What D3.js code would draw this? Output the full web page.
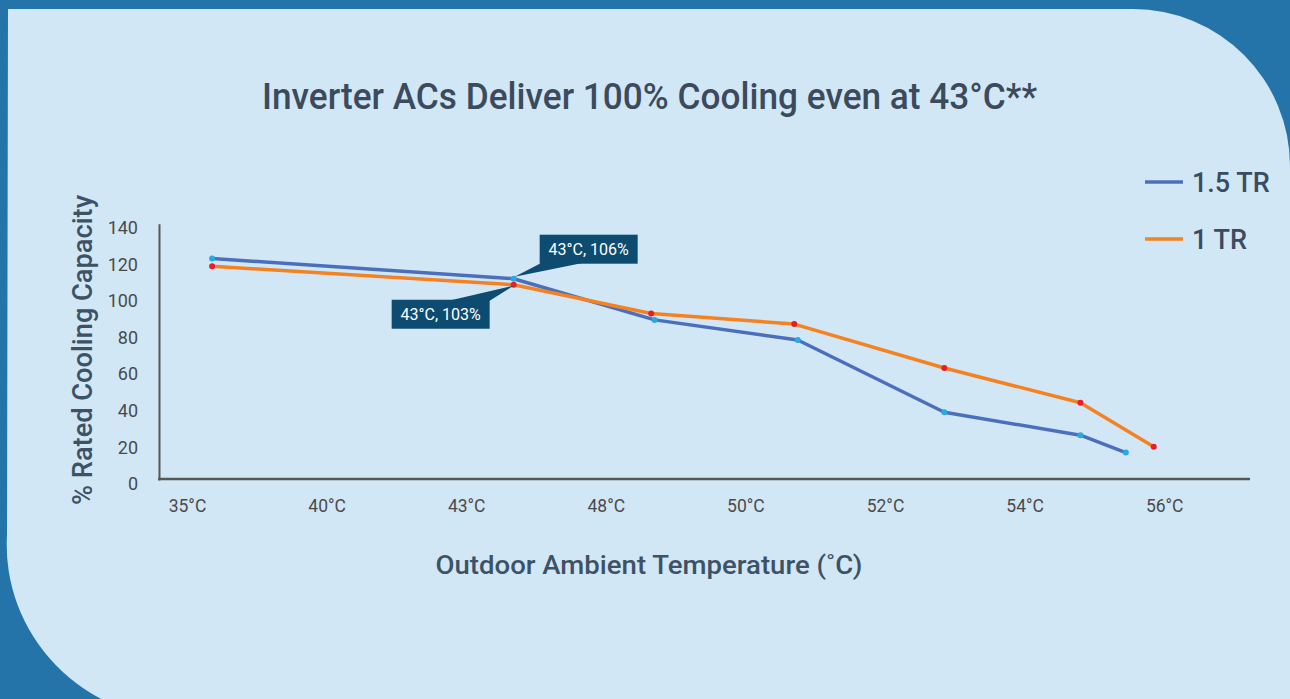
<!DOCTYPE html>
<html>
<head>
<meta charset="utf-8">
<script src="https://cdn.jsdelivr.net/npm/d3@7"></script>
<style>
  html, body { margin: 0; padding: 0; background: #2474aa; }
  svg { display: block; }
  text { font-family: Roboto, "Noto Sans", sans-serif; }
</style>
</head>
<body>
<script>
// chart values
var tempLabels = ["35°C", "40°C", "43°C", "48°C", "50°C", "52°C", "54°C", "56°C"],
    tempTicks  = [35, 40, 43, 48, 50, 52, 54, 56],
    yTicks     = [0, 20, 40, 60, 80, 100, 120, 140];

// ambient temperature of each plotted point (the x axis is not evenly spaced)
var temp15 = [35.9, 44.7, 48.7, 50.75, 52.85, 54.8, 55.45],
    cap15  = [121, 110, 87.5, 76.5, 37, 24.5, 15],
    temp1  = [35.9, 44.7, 48.65, 50.7, 52.85, 54.8, 55.85],
    cap1   = [116.8, 106.7, 91, 85.2, 61.2, 42.2, 18.2];

var seriesNames  = ["1.5 TR", "1 TR"],
    seriesColors = ["#4b6fbd", "#f58220"],
    dotColors    = ["#29a9e1", "#ed1c24"],
    annoLabels   = ["43°C, 106%", "43°C, 103%"];

var width = 1290,
    height = 699,
    plotLeft = 159,
    plotRight = 1250;

var svg = d3.select("body").append("svg")
    .attr("width", width)
    .attr("height", height);

// light panel with the big rounded corners
svg.append("path")
    .attr("d", "M8,9 H1133 A157,157 0 0 1 1290,166 V720 H187 A180,175 0 0 1 7,535 Z")
    .attr("fill", "#d2e7f5");

// scales: x is piecewise linear over the tick labels
var x = d3.scaleLinear()
    .domain(tempTicks)
    .range(tempTicks.map(function(d, i) { return 187 + i * 139.6; }));

var y = d3.scaleLinear()
    .domain([0, 140])
    .range([480, 223.8]);

// title
svg.append("text")
    .attr("x", 649.5)
    .attr("y", 109)
    .attr("text-anchor", "middle")
    .attr("font-size", 37)
    .attr("font-weight", 500)
    .attr("textLength", 775)
    .attr("lengthAdjust", "spacingAndGlyphs")
    .attr("fill", "#3b4b5d")
    .text("Inverter ACs Deliver 100% Cooling even at 43°C**");

// y axis
var yAxis = svg.append("g")
    .attr("transform", "translate(" + plotLeft + ",0)")
    .call(d3.axisLeft(y).tickValues(yTicks).tickSize(0).tickPadding(21));

yAxis.select(".domain").attr("stroke", "#555759").attr("stroke-width", 2);
yAxis.selectAll("text")
    .attr("transform", "translate(0,4)")
    .attr("font-size", 18)
    .attr("font-family", "Roboto, sans-serif")
    .attr("fill", "#4a4a4c");

// x axis (labels only, baseline drawn across the full plot)
var xAxis = svg.append("g")
    .attr("transform", "translate(0," + y(0) + ")")
    .call(d3.axisBottom(x).tickValues(tempTicks).tickSize(0).tickPadding(20)
      .tickFormat(function(d, i) { return tempLabels[i]; }));

xAxis.select(".domain").remove();
xAxis.selectAll("text")
    .attr("font-size", 17.5)
    .attr("font-family", "Roboto, sans-serif")
    .attr("fill", "#4a4a4c");

svg.append("line")
    .attr("x1", plotLeft - 1)
    .attr("x2", plotRight)
    .attr("y1", y(0) - 1)
    .attr("y2", y(0) - 1)
    .attr("stroke", "#555759")
    .attr("stroke-width", 2.5);

// axis titles
svg.append("text")
    .attr("transform", "translate(92,350)rotate(-90)")
    .attr("text-anchor", "middle")
    .attr("font-size", 28)
    .attr("font-weight", 500)
    .attr("textLength", 310)
    .attr("lengthAdjust", "spacingAndGlyphs")
    .attr("fill", "#3e5266")
    .text("% Rated Cooling Capacity");

svg.append("text")
    .attr("x", 649)
    .attr("y", 574)
    .attr("text-anchor", "middle")
    .attr("font-size", 25.5)
    .attr("font-weight", 500)
    .attr("textLength", 427)
    .attr("lengthAdjust", "spacingAndGlyphs")
    .attr("fill", "#3e5266")
    .text("Outdoor Ambient Temperature (˚C)");

// lines + markers
var series = [
  { name: seriesNames[0], temps: temp15, vals: cap15 },
  { name: seriesNames[1], temps: temp1, vals: cap1 }
];

var line = d3.line()
    .x(function(d) { return x(d[0]); })
    .y(function(d) { return y(d[1]); });

series.forEach(function(s, k) {
  var pts = d3.zip(s.temps, s.vals);
  svg.append("path")
      .datum(pts)
      .attr("d", line)
      .attr("fill", "none")
      .attr("stroke", seriesColors[k])
      .attr("stroke-width", 3.5)
      .attr("stroke-linejoin", "round");
});

series.forEach(function(s, k) {
  svg.selectAll("circle.s" + k)
      .data(d3.zip(s.temps, s.vals))
      .enter().append("circle")
        .attr("class", "s" + k)
        .attr("cx", function(d) { return x(d[0]); })
        .attr("cy", function(d) { return y(d[1]); })
        .attr("r", 3)
        .attr("fill", dotColors[k]);
});

// callouts at the second point of each series
var calloutFill = "#0d4c70";
function callout(px, py, bx, by, tail, label) {
  svg.append("path")
      .attr("d", "M" + tail[0][0] + "," + tail[0][1] + "L" + (px + 1) + "," + py + "L" + tail[1][0] + "," + tail[1][1] + "Z")
      .attr("fill", calloutFill);
  svg.append("rect")
      .attr("x", bx).attr("y", by)
      .attr("width", 98).attr("height", 29)
      .attr("fill", calloutFill);
  svg.append("text")
      .attr("x", bx + 49).attr("y", by + 20.5)
      .attr("text-anchor", "middle")
      .attr("font-size", 16)
      .attr("fill", "#ffffff")
      .text(label);
}

var p15x = x(temp15[1]), p15y = y(cap15[1]),
    p1x = x(temp1[1]), p1y = y(cap1[1]);

callout(p15x, p15y - 2, p15x + 26, p15y - 44,
        [[p15x + 28, p15y - 16], [p15x + 70, p15y - 16]], annoLabels[0]);
callout(p1x - 1, p1y + 1, p1x - 122, p1y + 15,
        [[p1x - 65, p1y + 16], [p1x - 24, p1y + 16]], annoLabels[1]);

// legend
var legend = svg.append("g").attr("transform", "translate(1145,182)");
seriesNames.forEach(function(name, i) {
  var row = legend.append("g").attr("transform", "translate(0," + (i * 57) + ")");
  row.append("line")
      .attr("x1", 0).attr("x2", 38)
      .attr("stroke", seriesColors[i])
      .attr("stroke-width", 3.5);
  row.append("text")
      .attr("x", 47)
      .attr("y", 9.5)
      .attr("font-size", 27)
      .attr("font-weight", 500)
      .attr("fill", "#3a4c5f")
      .text(name);
});
</script>
</body>
</html>
